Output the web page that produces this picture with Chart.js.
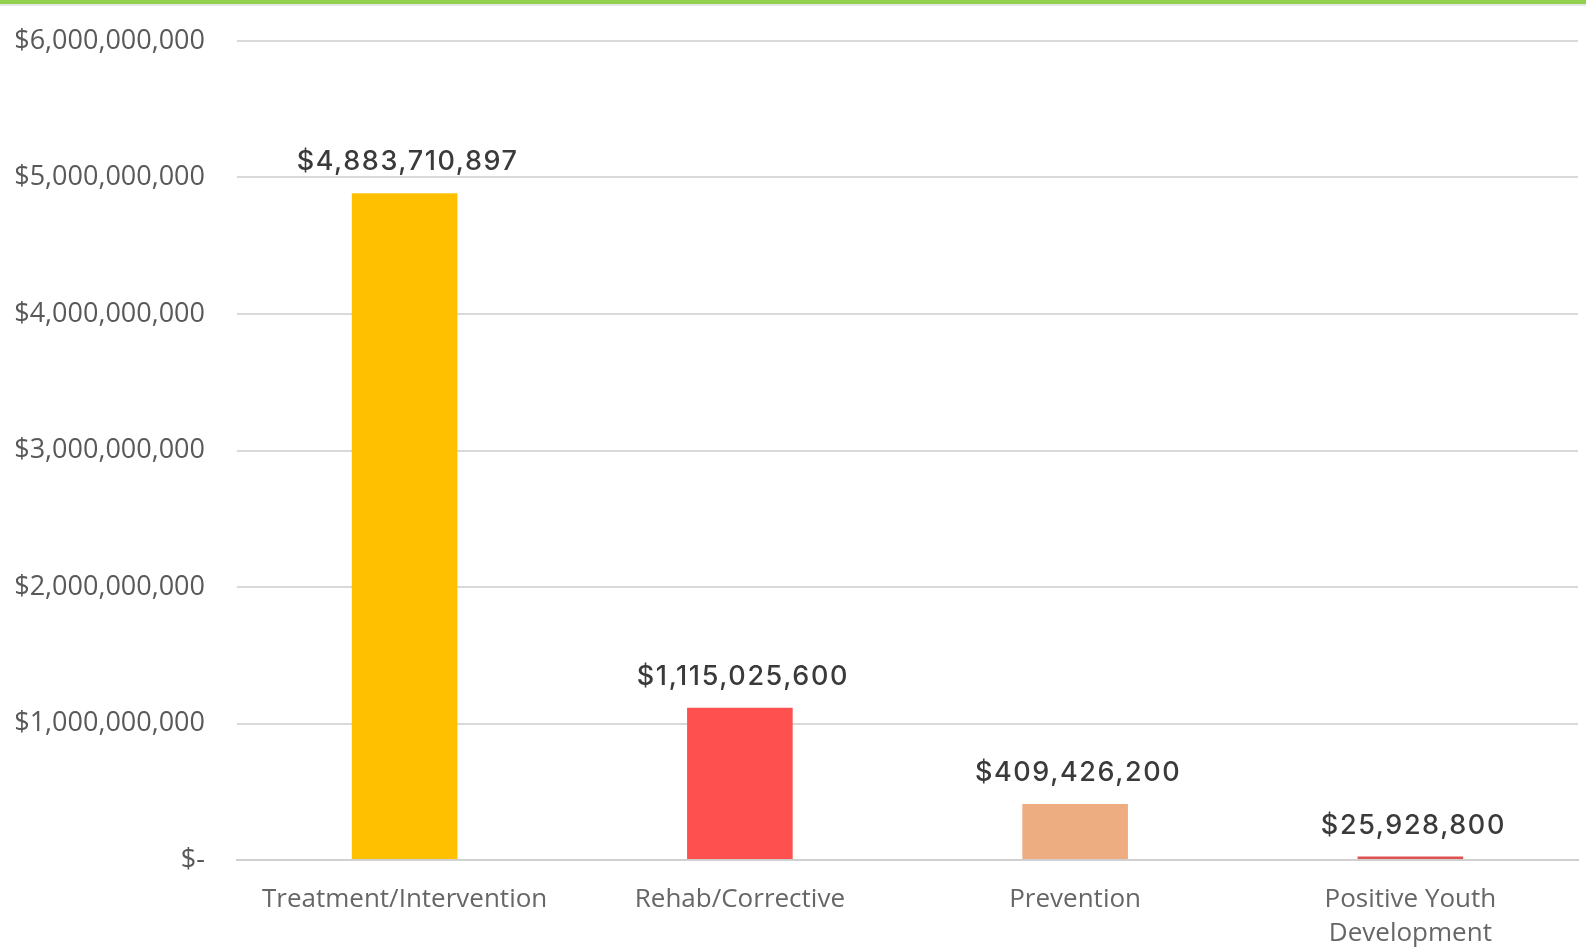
<!DOCTYPE html>
<html>
<head>
<meta charset="utf-8">
<script src="https://cdn.jsdelivr.net/npm/chart.js@4"></script>
<style>
  html, body { margin: 0; padding: 0; background: #fff; }
  #wrap { position: relative; width: 1586px; height: 950px; }
</style>
</head>
<body>
<div id="wrap"><canvas id="spendChart" width="1586" height="950"></canvas></div>
<script>
// spending by category
const categories = ["Treatment/Intervention", "Rehab/Corrective", "Prevention", ["Positive Youth", "Development"]];
const amounts = [4883710897, 1115025600, 409426200, 25928800];
const barColors = ["#FFC000", "#FF5050", "#EEAD80", "#E05252"];
const yTicks = [0, 1e9, 2e9, 3e9, 4e9, 5e9, 6e9];

const money = v => v === 0 ? "$-" : "$" + v.toLocaleString("en-US");

// thin green band along the top edge
const topBand = {
    id: "topBand",
    beforeDraw(chart) {
        const ctx = chart.ctx;
        ctx.save();
        ctx.fillStyle = "#92D050";
        ctx.fillRect(0, 0, chart.width, 4);
        ctx.fillStyle = "#e6e6e6";
        ctx.fillRect(0, 4, chart.width, 2);
        ctx.restore();
    }
};

// value labels above the bars
const valueLabels = {
    id: "valueLabels",
    afterDatasetsDraw(chart) {
        const ctx = chart.ctx;
        const meta = chart.getDatasetMeta(0);
        ctx.save();
        ctx.font = "500 27px Inter, 'Open Sans', sans-serif";
        ctx.letterSpacing = "1.6px";
        ctx.fillStyle = "#3a3a3a";
        ctx.textAlign = "center";
        ctx.textBaseline = "middle";
        meta.data.forEach((bar, i) => {
            ctx.fillText(money(amounts[i]), bar.x + 3, bar.y - 31);
        });
        ctx.restore();
    }
};

new Chart(document.getElementById("spendChart"), {
    type: "bar",
    data: {
        labels: categories,
        datasets: [{
            data: amounts,
            backgroundColor: barColors,
            barPercentage: 0.63,
            categoryPercentage: 0.5
        }]
    },
    options: {
        responsive: false,
        animation: false,
        layout: { padding: { top: 41, right: 8, left: 0, bottom: 0 } },
        plugins: { legend: { display: false }, tooltip: { enabled: false } },
        scales: {
            y: {
                min: 0,
                max: 6e9,
                afterFit(scale) {
                    scale.width = 237;
                    scale.paddingTop = 0;
                    scale.paddingBottom = 0;
                },
                afterBuildTicks(scale) { scale.ticks = yTicks.map(v => ({ value: v })); },
                border: { display: false },
                grid: { color: "#d9d9d9", lineWidth: 2, drawTicks: false },
                ticks: {
                    padding: 32,
                    color: "#595959",
                    font: { family: "'Open Sans', sans-serif", size: 27 },
                    callback: v => money(v)
                }
            },
            x: {
                afterFit(scale) {
                    scale.height = 90;
                    scale.paddingLeft = 0;
                    scale.paddingRight = 0;
                },
                border: { color: "#d0d0d0", width: 2 },
                grid: { display: false, drawTicks: false },
                ticks: {
                    padding: 23,
                    color: "#666666",
                    maxRotation: 0,
                    font: { family: "'Open Sans', sans-serif", size: 26, lineHeight: 1.3 }
                }
            }
        }
    },
    plugins: [topBand, valueLabels]
});
</script>
</body>
</html>
